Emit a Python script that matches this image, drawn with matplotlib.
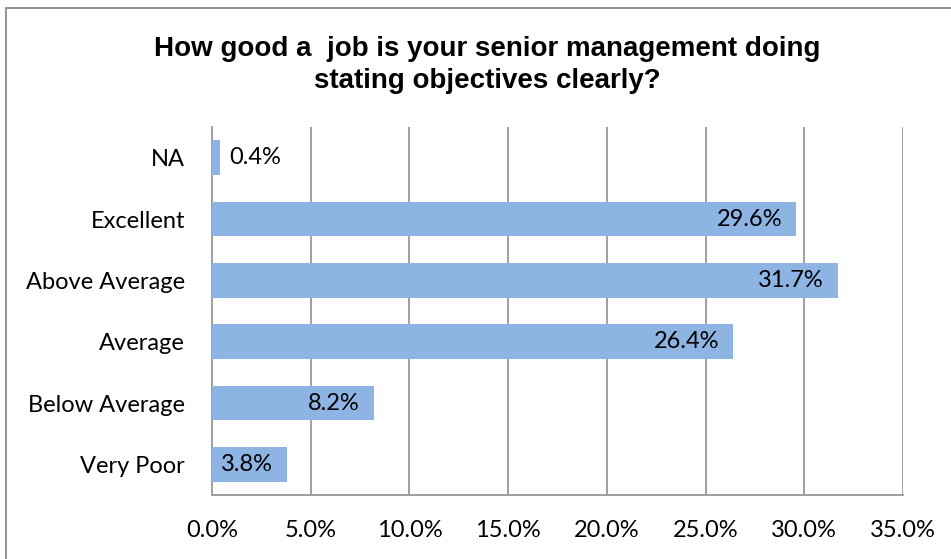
import matplotlib
matplotlib.use("Agg")
import matplotlib.pyplot as plt
from matplotlib.patches import Rectangle

categories = ["NA", "Excellent", "Above Average", "Average", "Below Average", "Very Poor"]
values = [0.4, 29.6, 31.7, 26.4, 8.2, 3.8]
xticks = [0, 5, 10, 15, 20, 25, 30, 35]
xtick_labels = ["0.0%", "5.0%", "10.0%", "15.0%", "20.0%", "25.0%", "30.0%", "35.0%"]
title = "How good a  job is your senior management doing\nstating objectives clearly?"

FS = 17
fig = plt.figure(figsize=(9.51, 5.59), dpi=100)
ax = fig.add_axes([212/951, 1-495/559, (903-212)/951, (495-127)/559])

ypos = list(range(len(categories)))[::-1]
ax.barh(ypos, values, height=0.56, color="#8EB4E3", zorder=3)
ax.set_ylim(-0.5, len(categories)-0.5)
ax.set_xlim(0, 35)
ax.set_yticks(ypos)
ax.set_yticklabels(categories, fontsize=FS, family="Lato")
ax.set_xticks(xticks)
ax.set_xticklabels(xtick_labels, fontsize=FS, family="Lato")
ax.tick_params(axis="y", length=0, pad=19.5)
ax.tick_params(axis="x", length=0, pad=18)
ax.grid(axis="x", color="#A0A0A0", linewidth=1.4, zorder=0)
for s in ["top", "right"]:
    ax.spines[s].set_visible(False)
for s in ["left", "bottom"]:
    ax.spines[s].set_color("#A0A0A0")
    ax.spines[s].set_linewidth(1.4)

for y, v in zip(ypos, values):
    lab = f"{v:.1f}%"
    if v < 2:
        ax.text(v + 0.45, y, lab, va="center", ha="left", fontsize=FS, family="Lato", zorder=4)
    else:
        ax.text(v - 0.7, y, lab, va="center", ha="right", fontsize=FS, family="Lato", zorder=4)

fig.text(487/951, 0.935, title, ha="center", va="top", fontsize=20, fontweight="bold",
         family="Liberation Sans", linespacing=1.3)

fig.patches.append(Rectangle((6/951, -0.05), 1.2, 1-8/559+0.05, transform=fig.transFigure,
                             fill=False, edgecolor="#8C8C8C", linewidth=1.3))

fig.savefig("out.png", dpi=100)
